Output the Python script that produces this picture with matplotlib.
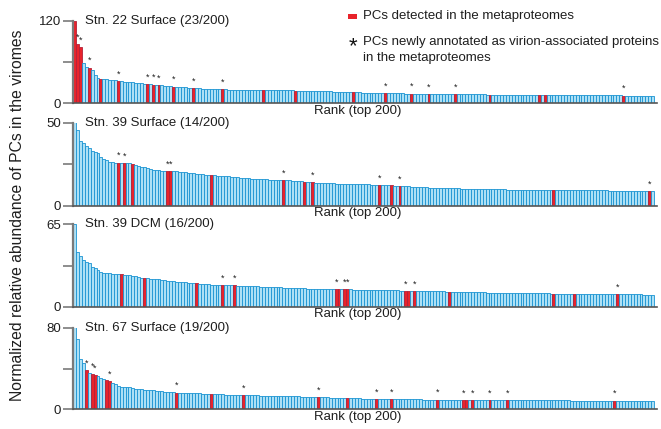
import matplotlib
matplotlib.use("Agg")
import matplotlib.pyplot as plt
from matplotlib.patches import Rectangle

plt.rcParams['font.family'] = ['Liberation Sans', 'DejaVu Sans']

# ---------------- data ----------------
titles = ["Stn. 22 Surface (23/200)", "Stn. 39 Surface (14/200)",
          "Stn. 39 DCM (16/200)", "Stn. 67 Surface (19/200)"]
ymax = [120, 50, 65, 80]
xlabel = "Rank (top 200)"
ylabel = "Normalized relative abundance of PCs in the viromes"
legend_red = "PCs detected in the metaproteomes"
legend_star = "PCs newly annotated as virion-associated proteins\nin the metaproteomes"

stn22_surface = [
    119, 86, 82, 59, 53, 52, 48, 41, 37, 36,
    35, 35, 34.5, 34, 33.5, 32.5, 32, 31.5, 31, 30.5,
    30.5, 30, 29.5, 29, 28.5, 27.8, 27.5, 27.2, 26.8, 26.5,
    26, 25.6, 25.2, 24.8, 24.4, 24, 23.6, 23.3, 23, 22.7,
    22.4, 22, 21.8, 21.6, 21.4, 21.2, 21, 20.8, 20.6, 20.4,
    20.3, 20.2, 20.1, 20, 20, 19.9, 19.8, 19.8, 19.7, 19.6,
    19.5, 19.5, 19.4, 19.4, 19.3, 19.3, 19.2, 19.2, 19.1, 19,
    19, 18.9, 18.8, 18.8, 18.7, 18.6, 18.5, 18.5, 18.4, 18.3,
    18.2, 18.1, 18, 17.9, 17.8, 17.7, 17.6, 17.5, 17.3, 17.1,
    16.9, 16.7, 16.5, 16.3, 16.2, 16.0, 15.9, 15.8, 15.7, 15.6,
    15.5, 15.4, 15.3, 15.2, 15.1, 15.0, 14.9, 14.8, 14.7, 14.6,
    14.5, 14.4, 14.4, 14.3, 14.2, 14.2, 14.1, 14.0, 14.0, 13.9,
    13.8, 13.8, 13.7, 13.6, 13.6, 13.5, 13.5, 13.4, 13.4, 13.3,
    13.3, 13.2, 13.2, 13.1, 13.1, 13.0, 13.0, 12.9, 12.9, 12.8,
    12.8, 12.8, 12.7, 12.7, 12.6, 12.6, 12.6, 12.5, 12.5, 12.5,
    12.4, 12.4, 12.4, 12.3, 12.3, 12.3, 12.2, 12.2, 12.2, 12.1,
    12.1, 12.1, 12.0, 12.0, 12.0, 11.9, 11.9, 11.9, 11.9, 11.8,
    11.8, 11.8, 11.8, 11.7, 11.7, 11.7, 11.7, 11.6, 11.6, 11.6,
    11.6, 11.5, 11.5, 11.5, 11.5, 11.4, 11.4, 11.4, 11.4, 11.3,
    11.3, 11.3, 11.3, 11.2, 11.2, 11.2, 11.2, 11.1, 11.1, 11.0,
]
stn39_surface = [
    50.5, 45.5, 39, 37.5, 36, 34.5, 33, 32.3, 31.5, 29.5,
    28, 27.5, 26.5, 26.2, 26, 26, 25.8, 25.8, 25.6, 25.5,
    25, 24.3, 23.8, 23.5, 23.2, 22.8, 22.2, 21.6, 21.4, 21.3,
    21.2, 21.1, 21, 21, 20.9, 20.7, 20.5, 20.3, 20.1, 19.9,
    19.7, 19.5, 19.3, 19.1, 18.9, 18.7, 18.5, 18.3, 18.2, 18.1,
    18, 17.9, 17.8, 17.6, 17.4, 17.2, 17, 16.8, 16.6, 16.5,
    16.4, 16.3, 16.2, 16.1, 16, 15.9, 15.8, 15.7, 15.6, 15.6,
    15.5, 15.5, 15.4, 15.3, 15.2, 15.1, 15, 14.8, 14.6, 14.4,
    14.2, 14.1, 14, 13.9, 13.8, 13.7, 13.6, 13.5, 13.4, 13.4,
    13.3, 13.3, 13.2, 13.2, 13.1, 13.1, 13, 13, 12.9, 12.9,
    12.8, 12.8, 12.7, 12.7, 12.6, 12.6, 12.5, 12.4, 12.3, 12.2,
    12.1, 12, 11.9, 11.8, 11.7, 11.6, 11.5, 11.4, 11.3, 11.2,
    11.1, 11.0, 10.9, 10.8, 10.8, 10.7, 10.7, 10.6, 10.6, 10.5,
    10.5, 10.4, 10.4, 10.3, 10.3, 10.2, 10.2, 10.1, 10.1, 10.0,
    10.0, 10.0, 9.9, 9.9, 9.9, 9.8, 9.8, 9.8, 9.8, 9.7,
    9.7, 9.7, 9.7, 9.6, 9.6, 9.6, 9.6, 9.6, 9.5, 9.5,
    9.5, 9.5, 9.5, 9.5, 9.4, 9.4, 9.4, 9.4, 9.4, 9.4,
    9.3, 9.3, 9.3, 9.3, 9.3, 9.3, 9.3, 9.2, 9.2, 9.2,
    9.2, 9.2, 9.2, 9.2, 9.1, 9.1, 9.1, 9.1, 9.1, 9.1,
    9.0, 9.0, 9.0, 9.0, 9.0, 8.9, 8.9, 8.9, 8.9, 8.9,
]
stn39_dcm = [
    65, 43, 40, 36.6, 35.5, 34.7, 31.6, 30.8, 29, 27.4,
    26.8, 26.5, 26.3, 26.1, 25.9, 25.7, 25.5, 25.3, 25.1, 24.8,
    24.5, 24, 23.5, 22.8, 22.4, 22.3, 22.2, 22.1, 22, 21.5,
    21, 20.7, 20.5, 20.2, 20, 19.8, 19.6, 19.4, 19.2, 19,
    18.8, 18.6, 18.4, 18.2, 18, 17.8, 17.6, 17.4, 17.3, 17.2,
    17.1, 17, 17, 16.9, 16.8, 16.8, 16.7, 16.6, 16.5, 16.4,
    16.3, 16.2, 16.1, 16, 15.9, 15.8, 15.7, 15.6, 15.5, 15.4,
    15.3, 15.2, 15.1, 15, 14.9, 14.8, 14.7, 14.6, 14.5, 14.4,
    14.3, 14.3, 14.2, 14.2, 14.1, 14.1, 14, 14, 13.9, 13.9,
    13.8, 13.8, 13.7, 13.7, 13.6, 13.6, 13.5, 13.5, 13.4, 13.4,
    13.3, 13.3, 13.2, 13.2, 13.1, 13.1, 13.0, 13.0, 12.9, 12.9,
    12.8, 12.8, 12.7, 12.7, 12.6, 12.6, 12.5, 12.5, 12.4, 12.4,
    12.3, 12.3, 12.2, 12.2, 12.1, 12.1, 12.0, 12.0, 11.9, 11.9,
    11.8, 11.8, 11.7, 11.7, 11.6, 11.6, 11.5, 11.5, 11.4, 11.4,
    11.3, 11.3, 11.2, 11.2, 11.1, 11.1, 11.0, 11.0, 10.9, 10.9,
    10.9, 10.8, 10.8, 10.8, 10.7, 10.7, 10.7, 10.6, 10.6, 10.6,
    10.5, 10.5, 10.5, 10.5, 10.4, 10.4, 10.4, 10.4, 10.3, 10.3,
    10.3, 10.3, 10.2, 10.2, 10.2, 10.2, 10.1, 10.1, 10.1, 10.1,
    10.0, 10.0, 10.0, 10.0, 9.9, 9.9, 9.9, 9.9, 9.8, 9.8,
    9.8, 9.8, 9.7, 9.7, 9.7, 9.7, 9.6, 9.6, 9.6, 9.5,
]
stn67_surface = [
    81, 69, 49, 45, 38.6, 36, 35, 33.7, 32.4, 30.4,
    29.7, 28.8, 27.8, 26, 24.5, 22.5, 22.2, 22, 22, 21.8,
    20.5, 20.2, 20, 19.7, 19.4, 19.1, 18.8, 18.5, 18.2, 18,
    17.7, 17.4, 17.1, 16.8, 16.5, 16.3, 16.2, 16.1, 16, 15.9,
    15.8, 15.7, 15.6, 15.5, 15.4, 15.2, 15.1, 15, 14.9, 14.8,
    14.7, 14.6, 14.5, 14.4, 14.3, 14.2, 14.1, 14.1, 14, 14,
    13.9, 13.8, 13.7, 13.6, 13.5, 13.4, 13.3, 13.2, 13.1, 13,
    12.9, 12.9, 12.8, 12.8, 12.7, 12.7, 12.6, 12.6, 12.5, 12.5,
    12.4, 12.4, 12.3, 12.2, 12.1, 12.0, 11.8, 11.6, 11.4, 11.2,
    11.0, 10.9, 10.9, 10.8, 10.8, 10.7, 10.7, 10.6, 10.6, 10.5,
    10.5, 10.4, 10.4, 10.3, 10.3, 10.2, 10.2, 10.1, 10.1, 10.0,
    10.0, 9.9, 9.9, 9.9, 9.8, 9.8, 9.8, 9.7, 9.7, 9.7,
    9.6, 9.6, 9.6, 9.5, 9.5, 9.5, 9.5, 9.4, 9.4, 9.4,
    9.4, 9.3, 9.3, 9.3, 9.3, 9.2, 9.2, 9.2, 9.2, 9.2,
    9.1, 9.1, 9.1, 9.1, 9.1, 9.0, 9.0, 9.0, 9.0, 9.0,
    9.0, 8.9, 8.9, 8.9, 8.9, 8.9, 8.9, 8.8, 8.8, 8.8,
    8.8, 8.8, 8.8, 8.8, 8.7, 8.7, 8.7, 8.7, 8.7, 8.7,
    8.7, 8.6, 8.6, 8.6, 8.6, 8.6, 8.6, 8.6, 8.6, 8.5,
    8.5, 8.5, 8.5, 8.5, 8.5, 8.5, 8.5, 8.4, 8.4, 8.4,
    8.4, 8.4, 8.4, 8.4, 8.4, 8.3, 8.3, 8.3, 8.3, 8.3,
]

# ranks (0-based) of bars detected in metaproteomes (red) and newly annotated (*)
red_22s = [0, 1, 2, 5, 9, 15, 25, 27, 29, 34, 41, 51, 65, 76,
           96, 107, 116, 122, 131, 143, 160, 162, 189]
star_22s = [1, 2, 5, 15, 25, 27, 29, 34, 41, 51, 107, 116, 122, 131, 189]
red_39s = [15, 17, 20, 32, 33, 47, 72, 79, 82, 105, 109, 112, 165, 198]
star_39s = [15, 17, 32, 33, 72, 82, 105, 112, 198]
red_39d = [16, 24, 42, 51, 55, 90, 91, 93, 94, 114, 115, 117, 129, 165, 172, 187]
star_39d = [51, 55, 90, 93, 94, 114, 117, 187]
red_67s = [4, 6, 7, 11, 12, 35, 47, 58, 84, 94, 104, 109, 125, 134, 135, 137,
           143, 149, 186]
star_67s = [4, 6, 7, 12, 35, 58, 84, 104, 109, 125, 134, 137, 143, 149, 186]

series = [stn22_surface, stn39_surface, stn39_dcm, stn67_surface]
reds = [red_22s, red_39s, red_39d, red_67s]
stars = [star_22s, star_39s, star_39d, star_67s]

# ---------------- figure ----------------
W, H = 661, 429
fig = plt.figure(figsize=(W / 100, H / 100), dpi=100)

panel_px = [(20.7, 103.3), (122.7, 205.7), (224.3, 306.7), (327.7, 409.3)]
x0_px, x1_px = 73, 657

blue_fill = '#ade0f5'
blue_edge = '#1a93d2'
red_fill = '#e8232b'
red_edge = '#b3213a'
axis_grey = '#7a7a7a'
txt = '#1e1e1e'

for i in range(4):
    top, bot = panel_px[i]
    ax = fig.add_axes([x0_px / W, 1 - bot / H, (x1_px - x0_px) / W, (bot - top) / H])
    vals = series[i]
    n = len(vals)
    ranks = list(range(n))
    colors = [red_fill if r in reds[i] else blue_fill for r in ranks]
    edges = [red_edge if r in reds[i] else blue_edge for r in ranks]
    ax.bar(ranks, vals, width=1.0, color=colors, edgecolor=edges, linewidth=0.6,
           align='center', zorder=2)
    for r in stars[i]:
        ax.text(r, vals[r] + ymax[i] * 0.03, '*', ha='center', va='bottom',
                fontsize=6.5, color=txt, zorder=3)
    ax.set_xlim(-0.6, 200.5)
    ax.set_ylim(0, ymax[i])
    ax.set_yticks([0, ymax[i] / 2, ymax[i]])
    ax.set_yticklabels(['0', '', str(ymax[i])])
    ax.set_xticks([])
    for s in ['top', 'right']:
        ax.spines[s].set_visible(False)
    ax.spines['left'].set_color(axis_grey)
    ax.spines['left'].set_linewidth(1.6)
    ax.spines['bottom'].set_color('#555555')
    ax.spines['bottom'].set_linewidth(1.2)
    ax.tick_params(axis='y', direction='out', length=7, width=1.2, color=axis_grey,
                   labelsize=9.5, pad=1.5, labelcolor=txt)
    ax.patch.set_alpha(0)
    ax.text(0.02, 1.0, titles[i], transform=ax.transAxes, ha='left', va='center',
            fontsize=9.5, color=txt)
    ax.text(0.487, -0.02, xlabel, transform=ax.transAxes, ha='center', va='top',
            fontsize=9.5, color=txt)

fig.text(18 / W, 1 - 215 / H, ylabel, rotation=90, ha='center', va='center',
         fontsize=11.3, color=txt)

# legend
fig.patches.append(Rectangle((348 / W, 1 - 19 / H), 9 / W, 5 / H,
                             transform=fig.transFigure, facecolor=red_fill,
                             edgecolor='none'))
fig.text(363 / W, 1 - 16.5 / H, legend_red, ha='left', va='center', fontsize=9.5,
         color=txt)
fig.text(353 / W, 1 - 47 / H, '*', ha='center', va='center', fontsize=16,
         color='#111111')
fig.text(363 / W, 1 - 36.5 / H, legend_star, ha='left', va='top', fontsize=9.5,
         color=txt, linespacing=1.35)

fig.savefig('out.png', dpi=100)
